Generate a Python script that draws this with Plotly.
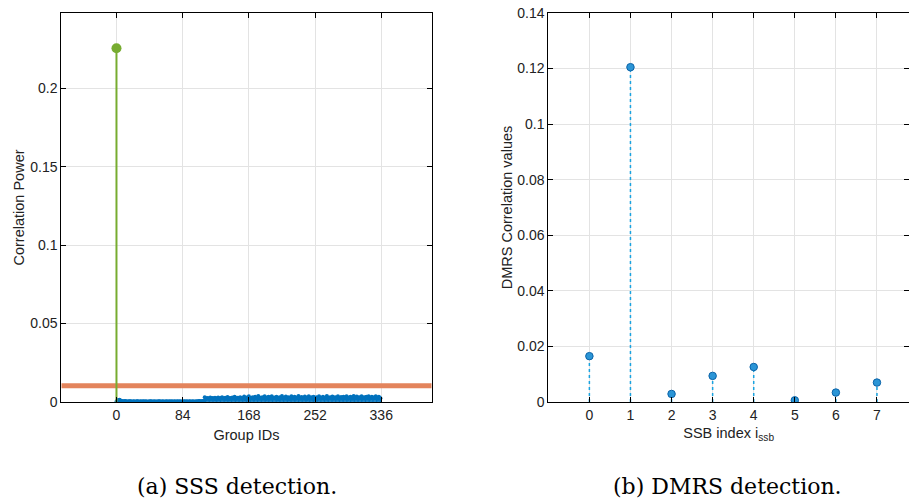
import plotly.graph_objects as go

# ---------------- data ----------------
group_ids_ticks = [0, 84, 168, 252, 336]
detected_group = [0]
detected_power = [0.2255]
threshold = 0.0104

# correlation power for group IDs 0..335 (units of 1e-4)
sss_power_e4 = [
    3, 8, 12, 10, 14, 9, 6, 4, 5, 3, 4, 6, 5, 3, 2, 4, 3, 5, 4, 3, 2, 3, 4, 3,
    2, 3, 5, 4, 3, 2, 3, 4, 2, 3, 5, 3, 2, 4, 3, 2, 3, 2, 4, 3, 5, 3, 2, 3,
    4, 2, 3, 3, 2, 4, 3, 5, 3, 2, 3, 4, 2, 3, 2, 4, 3, 3, 2, 5, 3, 2, 4, 3,
    2, 3, 4, 2, 3, 3, 5, 2, 3, 4, 2, 3, 2, 3, 4, 3, 2, 4, 3, 2, 3, 5, 3, 2,
    3, 4, 2, 3, 2, 4, 3, 3, 5, 6, 4, 3, 5, 4, 6, 5,
    30, 18, 22, 25, 20, 24, 19, 28, 21, 23, 26, 20, 22, 27, 18, 24, 21, 29, 23, 19, 25, 22, 30, 20,
    24, 21, 27, 19, 23, 32, 22, 18, 26, 24, 20, 28, 23, 21, 34, 22, 19, 25, 27, 21, 23, 30, 20, 24,
    22, 26, 35, 19, 23, 28, 21, 25, 36, 22, 20, 27, 24, 31, 19, 23, 33, 22, 26, 20, 38, 24, 21, 27,
    23, 30, 20, 25, 36, 22, 19, 28, 24, 33, 21, 26, 23, 37, 20, 25, 29, 22, 24, 34, 21, 27, 19, 31,
    23, 26, 38, 20, 24, 28, 22, 35, 21, 25, 30, 19, 27, 23, 36, 22, 26, 20, 33, 24, 21, 29, 25, 38,
    22, 27, 20, 32, 24, 26, 21, 35, 23, 28, 19, 25, 37, 22, 26, 30, 21, 24, 34, 20, 27, 23, 31, 25,
    21, 36, 24, 28, 22, 26, 33, 20, 25, 29, 23, 38, 21, 27, 24, 31, 22, 26, 35, 20, 28, 24, 30, 22,
    25, 37, 21, 27, 23, 32, 26, 20, 34, 24, 28, 22, 36, 25, 21, 29, 27, 33, 23, 26, 20, 38, 24, 28,
    22, 35, 25, 21, 30, 27, 24, 36, 20, 26, 31, 23, 28, 34, 22, 25, 37, 21, 27, 24, 33, 26, 22, 30,
    25, 36, 23, 28, 21, 34, 26, 24,
]
sss_power = [v * 1e-4 for v in sss_power_e4]
group_ids = list(range(len(sss_power)))

ssb_index = [0, 1, 2, 3, 4, 5, 6, 7]
dmrs_corr = [0.0165, 0.1205, 0.0029, 0.0094, 0.0126, 0.0006, 0.0034, 0.0070]

left_yticks = [0, 0.05, 0.1, 0.15, 0.2]
right_yticks = [0, 0.02, 0.04, 0.06, 0.08, 0.1, 0.12, 0.14]
captions = ["(a) SSS detection.", "(b) DMRS detection."]


def stems(xs, ys):
    sx, sy = [], []
    for x, y in zip(xs, ys):
        sx += [x, x, None]
        sy += [0, y, None]
    return sx, sy


fig = go.Figure()

# ---- left panel ----
bx, by = stems(group_ids, sss_power)
fig.add_trace(go.Scatter(x=bx, y=by, mode="lines", line=dict(color="#0072BD", width=1),
                         xaxis="x", yaxis="y", showlegend=False, hoverinfo="skip"))
fig.add_trace(go.Scatter(x=group_ids, y=sss_power, mode="markers",
                         marker=dict(color="#0072BD", size=4),
                         xaxis="x", yaxis="y", showlegend=False))
fig.add_trace(go.Scatter(x=[-70, 400], y=[threshold, threshold], mode="lines",
                         line=dict(color="#E3845C", width=5),
                         xaxis="x", yaxis="y", showlegend=False))
gx, gy = stems(detected_group, detected_power)
fig.add_trace(go.Scatter(x=gx, y=gy, mode="lines", line=dict(color="#77AC30", width=2),
                         xaxis="x", yaxis="y", showlegend=False))
fig.add_trace(go.Scatter(x=detected_group, y=detected_power, mode="markers",
                         marker=dict(color="#77AC30", size=10),
                         xaxis="x", yaxis="y", showlegend=False))

# ---- right panel ----
rx, ry = stems(ssb_index, dmrs_corr)
fig.add_trace(go.Scatter(x=rx, y=ry, mode="lines",
                         line=dict(color="#1AA3E0", width=1.5, dash="dot"),
                         xaxis="x2", yaxis="y2", showlegend=False, hoverinfo="skip"))
fig.add_trace(go.Scatter(x=ssb_index, y=dmrs_corr, mode="markers",
                         marker=dict(color="#2B95D6", size=7.5,
                                     line=dict(color="#0B63A8", width=1)),
                         xaxis="x2", yaxis="y2", showlegend=False))

axis_common = dict(showline=True, linecolor="black", linewidth=1, mirror="ticks",
                   ticks="inside", ticklen=5, tickcolor="black",
                   showgrid=True, gridcolor="#E3E3E3", gridwidth=1, zeroline=False,
                   tickfont=dict(family="Liberation Sans, Arial", size=14, color="#222"),
                   title_font=dict(family="Liberation Sans, Arial", size=14.5, color="#222"))

fig.update_layout(
    width=909, height=502,
    margin=dict(l=0, r=0, t=12.5, b=100),
    paper_bgcolor="white", plot_bgcolor="white",
    xaxis=dict(domain=[61.3 / 909, 431.7 / 909], range=[-70, 400],
               tickvals=group_ids_ticks, title=dict(text="Group IDs", standoff=8),
               anchor="y", **axis_common),
    yaxis=dict(domain=[0, 1], range=[0, 0.248], tickvals=left_yticks,
               ticktext=[str(v) for v in left_yticks],
               title=dict(text="Correlation Power", standoff=2), anchor="x", **axis_common),
    xaxis2=dict(domain=[548.3 / 909, 1.0], range=[-1, 7.78],
                tickvals=ssb_index, title=dict(text="SSB index i<sub>ssb</sub>", standoff=6),
                anchor="y2", **axis_common),
    yaxis2=dict(domain=[0, 1], range=[0, 0.14], tickvals=right_yticks,
                ticktext=[("%g" % v) for v in right_yticks],
                title=dict(text="DMRS Correlation values", standoff=1), anchor="x2", **axis_common),
    annotations=[
        dict(text=captions[0], x=237 / 909, y=-(487 - 402.3) / 389.8, xref="paper", yref="paper",
             showarrow=False, xanchor="center", yanchor="middle",
             font=dict(family="DejaVu Serif", size=22, color="black")),
        dict(text=captions[1], x=727 / 909, y=-(487 - 402.3) / 389.8, xref="paper", yref="paper",
             showarrow=False, xanchor="center", yanchor="middle",
             font=dict(family="DejaVu Serif", size=22, color="black")),
    ],
)

fig.write_html("out.html", config={"displayModeBar": False},
               post_script="document.body.style.margin='0';")
